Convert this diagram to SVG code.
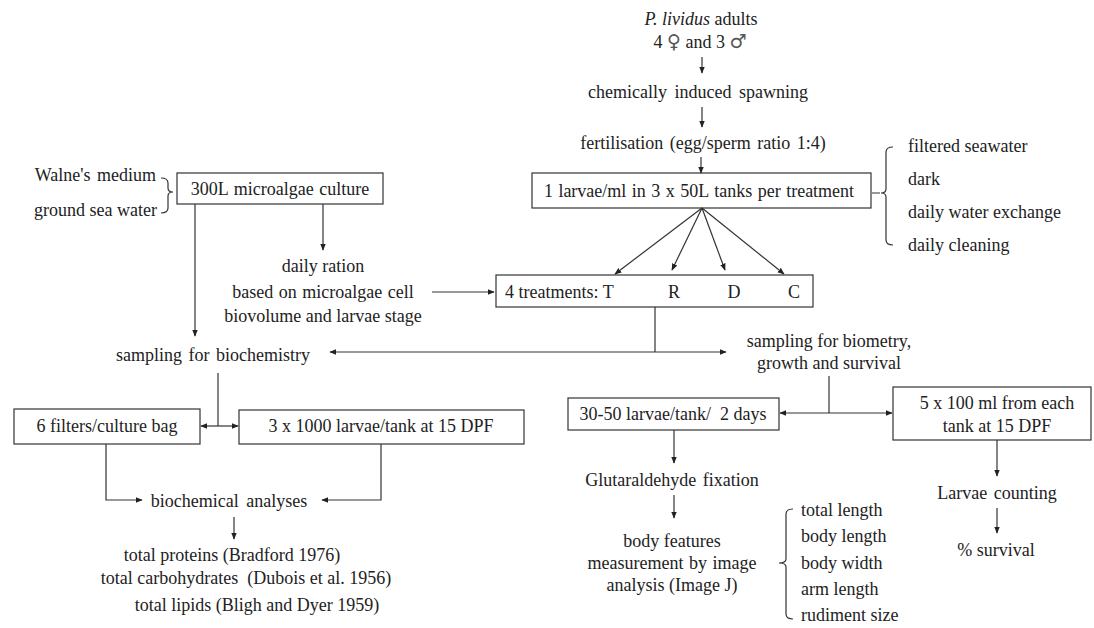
<svg xmlns="http://www.w3.org/2000/svg" width="1094" height="628" viewBox="0 0 1094 628">
<defs>
<style>
text{font-family:"Liberation Serif","Times New Roman",serif;font-size:18px;fill:#222}
.m{text-anchor:middle}
.e{text-anchor:end}
.sym{font-family:"DejaVu Sans",sans-serif;font-size:19px;fill:#555}
.box{fill:#fff;stroke:#333;stroke-width:1.2}
.ln{fill:none;stroke:#333;stroke-width:1.2}
.ar{fill:none;stroke:#333;stroke-width:1.2;marker-end:url(#ah)}
</style>
<marker id="ah" viewBox="0 0 10 10" refX="9" refY="5" markerWidth="7" markerHeight="7" markerUnits="userSpaceOnUse" orient="auto">
<path d="M0,1 L10,5 L0,9 z" fill="#222"/>
</marker>
</defs>
<rect width="1094" height="628" fill="#fff"/>

<g id="adults">
<text class="m" x="701" y="25"><tspan font-style="italic">P. lividus</tspan> adults</text>
<text class="m" x="700" y="48">4 <tspan class="sym">♀</tspan> and 3 <tspan class="sym">♂</tspan></text>
</g>
<g id="spawning"><text class="m" x="698" y="98" word-spacing="3">chemically induced spawning</text></g>
<g id="fertilisation"><text class="m" x="703" y="149" word-spacing="2">fertilisation (egg/sperm ratio 1:4)</text></g>
<g id="tanks">
<rect class="box" x="532" y="173" width="339" height="35"/>
<text class="m" x="699" y="197" word-spacing="1">1 larvae/ml in 3 x 50L tanks per treatment</text>
</g>
<g id="conditions">
<path class="ln" d="M872,193 L880,193 M893,147 Q886,147 886,152 L886,189 Q886,193 881,193 Q886,193 886,197 L886,240 Q886,245 893,245"/>
<text x="908" y="152">filtered seawater</text>
<text x="908" y="185">dark</text>
<text x="908" y="218">daily water exchange</text>
<text x="908" y="251">daily cleaning</text>
</g>
<g id="medium">
<text class="e" x="156" y="181" word-spacing="2">Walne's medium</text>
<text class="e" x="157" y="216">ground sea water</text>
<path class="ln" d="M161,178 Q168,178 168,183 L168,188 Q168,192 173,192 Q168,192 168,196 L168,208 Q168,213 161,213"/>
</g>
<g id="culture">
<rect class="box" x="177" y="173" width="206" height="31"/>
<text class="m" x="280" y="195" word-spacing="1">300L microalgae culture</text>
</g>
<g id="ration">
<text class="m" x="323" y="272">daily ration</text>
<text class="m" x="323" y="298" word-spacing="1">based on microalgae cell</text>
<text class="m" x="323" y="322">biovolume and larvae stage</text>
</g>
<g id="treatments">
<rect class="box" x="496" y="275" width="317" height="32"/>
<text x="505" y="298">4 treatments: T</text>
<text class="m" x="674" y="298">R</text>
<text class="m" x="734" y="298">D</text>
<text class="m" x="794" y="298">C</text>
</g>
<g id="sampling-biochem"><text class="m" x="213" y="361" word-spacing="2">sampling for biochemistry</text></g>
<g id="sampling-biometry">
<text class="m" x="829" y="347">sampling for biometry,</text>
<text class="m" x="829" y="369">growth and survival</text>
</g>
<g id="filters">
<rect class="box" x="14" y="409" width="186" height="35"/>
<text class="m" x="107" y="432">6 filters/culture bag</text>
</g>
<g id="larvae1000">
<rect class="box" x="239" y="410" width="285" height="34"/>
<text class="m" x="381" y="432">3 x 1000 larvae/tank at 15 DPF</text>
</g>
<g id="biochem-analyses"><text class="m" x="229" y="507" word-spacing="3">biochemical analyses</text></g>
<g id="biochem-results">
<text class="m" x="232" y="561">total proteins (Bradford 1976)</text>
<text class="m" x="246" y="584">total carbohydrates&#160; (Dubois et al. 1956)</text>
<text class="m" x="257" y="611">total lipids (Bligh and Dyer 1959)</text>
</g>
<g id="larvae3050">
<rect class="box" x="568" y="398" width="211" height="32"/>
<text class="m" x="673" y="420">30-50 larvae/tank/&#160; 2 days</text>
</g>
<g id="fixation"><text class="m" x="672" y="486" word-spacing="2">Glutaraldehyde fixation</text></g>
<g id="body-features">
<text class="m" x="672" y="547">body features</text>
<text class="m" x="672" y="569" word-spacing="1">measurement by image</text>
<text class="m" x="672" y="591">analysis (Image J)</text>
</g>
<g id="measures">
<path class="ln" d="M793,509 Q786,509 786,514 L786,559 Q786,563 779,563 Q786,563 786,567 L786,614 Q786,619 793,619"/>
<text x="801" y="516">total length</text>
<text x="801" y="542">body length</text>
<text x="801" y="569">body width</text>
<text x="801" y="595">arm length</text>
<text x="801" y="621">rudiment size</text>
</g>
<g id="samples100">
<rect class="box" x="893" y="387" width="198" height="53"/>
<text class="m" x="997" y="409">5 x 100 ml from each</text>
<text class="m" x="997" y="432">tank at 15 DPF</text>
</g>
<g id="counting"><text class="m" x="997" y="499" word-spacing="2">Larvae counting</text></g>
<g id="survival"><text class="m" x="996" y="556">% survival</text></g>

<g id="connectors">
<path class="ar" d="M702,57 L702,73"/>
<path class="ar" d="M702,107 L702,127"/>
<path class="ar" d="M701,157 L701,173"/>
<path class="ar" d="M702,208 L615,274"/>
<path class="ar" d="M702,208 L672,270"/>
<path class="ar" d="M702,208 L725,270"/>
<path class="ar" d="M702,208 L784,274"/>
<path class="ar" d="M323,204 L323,250"/>
<path class="ar" d="M195,204 L195,336"/>
<path class="ar" d="M432,292 L494,292"/>
<path class="ln" d="M655,307 L655,352"/>
<path class="ar" d="M655,352 L330,352"/>
<path class="ar" d="M655,352 L726,352"/>
<path class="ln" d="M218,373 L218,426"/>
<path class="ar" d="M218,426 L201,426"/>
<path class="ar" d="M218,426 L238,426"/>
<path class="ar" d="M106,444 L106,500 L142,500"/>
<path class="ar" d="M381,444 L381,500 L322,500"/>
<path class="ar" d="M234,517 L234,539"/>
<path class="ln" d="M829,376 L829,413"/>
<path class="ar" d="M829,413 L780,413"/>
<path class="ar" d="M829,413 L892,413"/>
<path class="ar" d="M674,430 L674,463"/>
<path class="ar" d="M674,495 L674,518"/>
<path class="ar" d="M997,440 L997,476"/>
<path class="ar" d="M997,508 L997,533"/>
</g>
</svg>
